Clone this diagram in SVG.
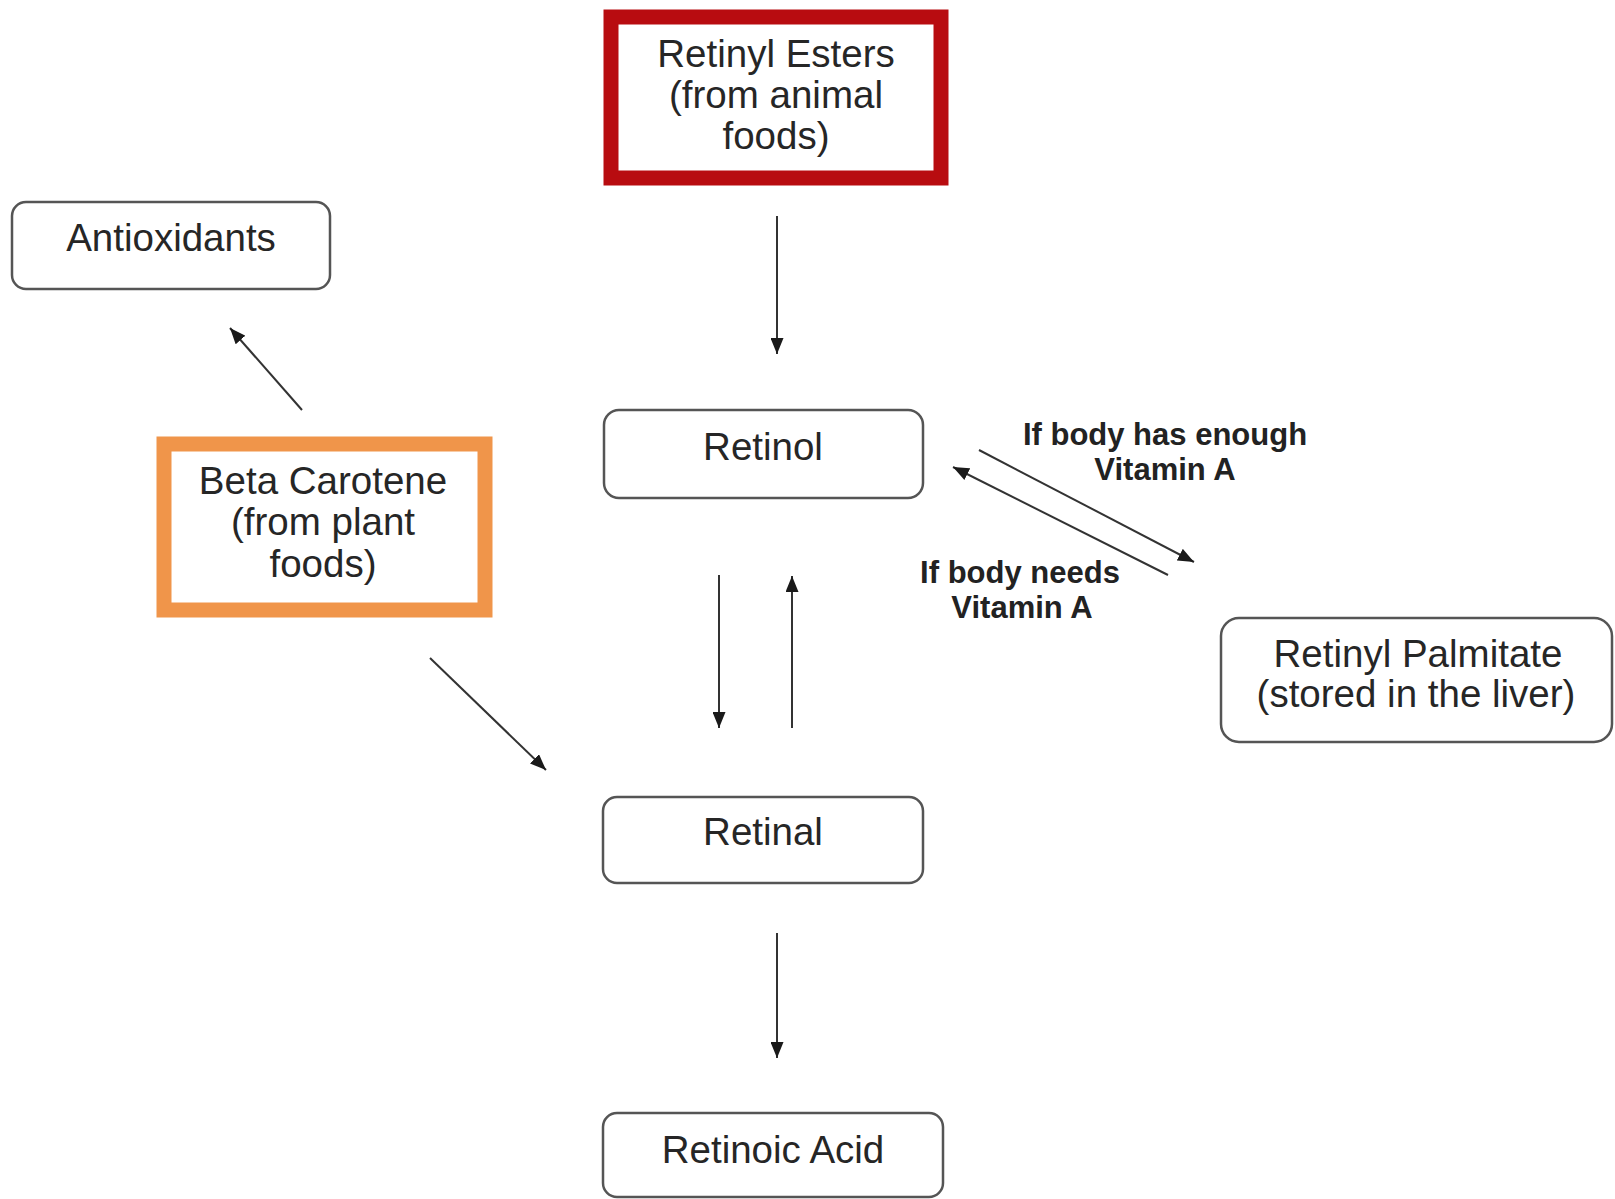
<svg xmlns="http://www.w3.org/2000/svg" width="1615" height="1199" viewBox="0 0 1615 1199">
<defs>
<style>
.box{fill:#fff;stroke:#555;stroke-width:2.5}
.t{font-family:"Liberation Sans",Arial,sans-serif;font-size:38.5px;fill:#262626;text-anchor:middle}
.lbl{font-family:"Liberation Sans",Arial,sans-serif;font-size:31px;font-weight:bold;fill:#222;text-anchor:middle}
.c{stroke:#333;stroke-width:2;fill:none;marker-end:url(#ah)}
</style>
<marker id="ah" viewBox="0 0 16 13" refX="16" refY="6.5" markerWidth="16" markerHeight="13" markerUnits="userSpaceOnUse" orient="auto">
<path d="M0,0 L16,6.5 L0,13 z" fill="#1a1a1a"/>
</marker>
</defs>
<rect width="1615" height="1199" fill="#fff"/>

<g id="connectors">
<line class="c" x1="777" y1="216" x2="777" y2="354"/>
<line class="c" x1="302" y1="410" x2="230" y2="328"/>
<line class="c" x1="430" y1="658" x2="546" y2="770"/>
<line class="c" x1="719" y1="575" x2="719" y2="728"/>
<line class="c" x1="792" y1="728" x2="792" y2="576"/>
<line class="c" x1="979" y1="450" x2="1194" y2="562"/>
<line class="c" x1="1168" y1="575" x2="953" y2="467"/>
<line class="c" x1="777" y1="933" x2="777" y2="1058"/>
</g>

<g id="retinyl-esters">
<rect x="611" y="17" width="330" height="161" fill="#fff" stroke="#b80c10" stroke-width="15"/>
<text class="t" x="776" y="67">Retinyl Esters</text>
<text class="t" x="776" y="108">(from animal</text>
<text class="t" x="776" y="149">foods)</text>
</g>

<g id="antioxidants">
<rect class="box" x="12" y="202" width="318" height="87" rx="14"/>
<text class="t" x="171" y="251">Antioxidants</text>
</g>

<g id="beta-carotene">
<rect x="164" y="444" width="321" height="166" fill="#fff" stroke="#f0954a" stroke-width="15"/>
<text class="t" x="323" y="494">Beta Carotene</text>
<text class="t" x="323" y="535">(from plant</text>
<text class="t" x="323" y="577">foods)</text>
</g>

<g id="retinol">
<rect class="box" x="604" y="410" width="319" height="88" rx="15"/>
<text class="t" x="763" y="460">Retinol</text>
</g>

<g id="retinyl-palmitate">
<rect class="box" x="1221" y="618" width="391" height="124" rx="18"/>
<text class="t" x="1418" y="667">Retinyl Palmitate</text>
<text class="t" x="1416" y="707">(stored in the liver)</text>
</g>

<g id="retinal">
<rect class="box" x="603" y="797" width="320" height="86" rx="14"/>
<text class="t" x="763" y="845">Retinal</text>
</g>

<g id="retinoic-acid">
<rect class="box" x="603" y="1113" width="340" height="84" rx="14"/>
<text class="t" x="773" y="1163">Retinoic Acid</text>
</g>

<g id="labels">
<text class="lbl" x="1165" y="445">If body has enough</text>
<text class="lbl" x="1165" y="480">Vitamin A</text>
<text class="lbl" x="1020" y="583">If body needs</text>
<text class="lbl" x="1022" y="618">Vitamin A</text>
</g>
</svg>
